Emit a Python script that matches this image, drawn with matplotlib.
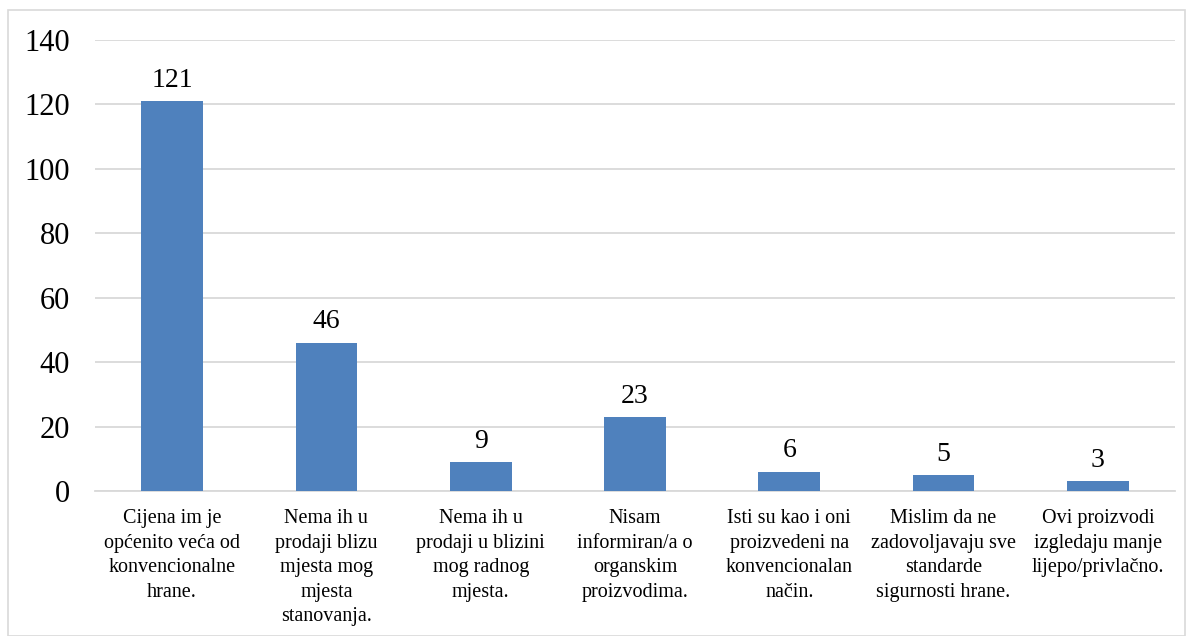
import matplotlib
matplotlib.use("Agg")
import matplotlib.pyplot as plt
from matplotlib.patches import Rectangle

categories = [
    "Cijena im je\nopćenito veća od\nkonvencionalne\nhrane.",
    "Nema ih u\nprodaji blizu\nmjesta mog\nmjesta\nstanovanja.",
    "Nema ih u\nprodaji u blizini\nmog radnog\nmjesta.",
    "Nisam\ninformiran/a o\norganskim\nproizvodima.",
    "Isti su kao i oni\nproizvedeni na\nkonvencionalan\nnačin.",
    "Mislim da ne\nzadovoljavaju sve\nstandarde\nsigurnosti hrane.",
    "Ovi proizvodi\nizgledaju manje\nlijepo/privlačno.",
]
values = [121, 46, 9, 23, 6, 5, 3]
yticks = [0, 20, 40, 60, 80, 100, 120, 140]

plt.rcParams['font.family'] = ['Liberation Serif', 'DejaVu Serif']

fig = plt.figure(figsize=(11.89, 6.36), dpi=100)
ax = fig.add_axes([95/1189, 1-491/636, (1175-95)/1189, (491-40)/636])

x = list(range(len(values)))
bars = ax.bar(x, values, width=0.4, color='#4f81bd', zorder=3)
for xi, v in zip(x, values):
    ax.annotate(str(v), (xi, v), xytext=(0, 6), textcoords='offset points',
                ha='center', va='bottom', fontsize=20, color='black')

ax.set_xlim(-0.5, len(values) - 0.5)
ax.set_ylim(0, 140)
ax.set_yticks(yticks)
ax.set_yticklabels([str(t) for t in yticks], fontsize=22)
ax.set_xticks(x)
ax.set_xticklabels(categories, fontsize=14.5, linespacing=1.4)
ax.tick_params(axis='both', length=0)
ax.tick_params(axis='x', pad=13)
ax.tick_params(axis='y', pad=18)
ax.grid(axis='y', color='#d9d9d9', linewidth=1.3, zorder=0)
for s in ['top', 'right', 'left']:
    ax.spines[s].set_visible(False)
ax.spines['bottom'].set_color('#d9d9d9')
ax.spines['bottom'].set_linewidth(1.3)

fig.patches.append(Rectangle((8/1189, 0), (1185-8)/1189, 1-10/636,
                             transform=fig.transFigure, fill=False,
                             edgecolor='#d9d9d9', linewidth=1.2))

fig.savefig("out.png", dpi=100)
